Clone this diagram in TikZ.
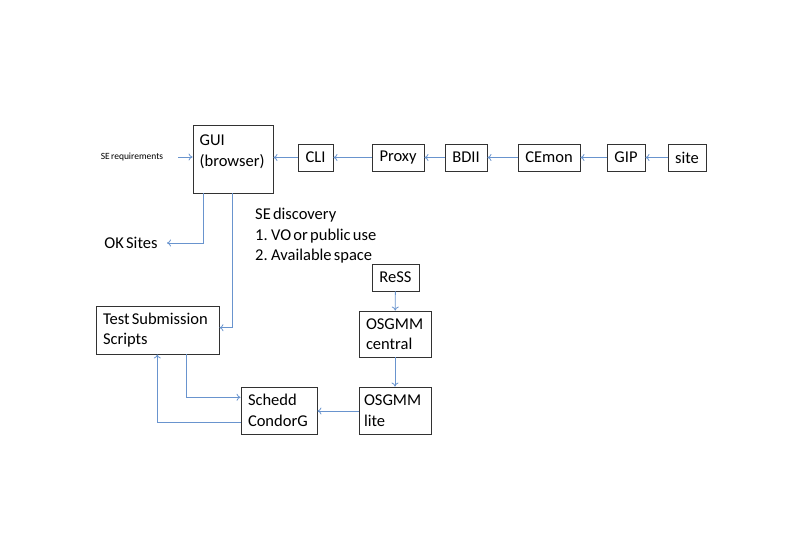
\documentclass[tikz,border=0pt]{standalone}
\usepackage{fontspec}
\setmainfont{Carlito}[WordSpace=0.6]
\usetikzlibrary{arrows.meta}
\definecolor{linkblue}{RGB}{105,148,206}
\definecolor{boxline}{RGB}{50,50,50}
\begin{document}
\begin{tikzpicture}[x=1pt,y=-1pt,
  every node/.style={font=\fontsize{16.5}{20.5}\selectfont},
  box/.style={draw=boxline,line width=0.9pt,inner sep=0pt},
  tbox/.style={box,align=flush left,text width=#1},
  link/.style={draw=linkblue,line width=0.8pt,-{To[length=4pt,width=7pt]}},
  plain/.style={inner sep=0pt}]
\useasboundingbox (0,0) rectangle (793,559);

% top row
\node[box,minimum width=80pt,minimum height=68pt] (gui) at (233,159) {};
\node[plain,anchor=base west,align=left] (guitext) at (199.5,166.2) {GUI\\(browser)};
\node[box,minimum width=35pt,minimum height=27pt] (cli) at (315.5,157.5) {CLI};
\node[box,minimum width=52pt,minimum height=27pt] (proxy) at (398,157.5) {Proxy};
\node[box,minimum width=42pt,minimum height=27pt] (bdii) at (466,157.5) {BDII};
\node[box,minimum width=62pt,minimum height=27pt] (cemon) at (549,157.5) {CEmon};
\node[box,minimum width=38pt,minimum height=27pt] (gip) at (626,157.5) {GIP};
\node[box,minimum width=38pt,minimum height=27pt] (site) at (687,157.5) {site};

% inputs and outputs of the GUI
\node[plain,font=\fontsize{9.5}{11}\selectfont] (req) at (132,157) {SE requirements};
\coordinate (reqend) at (178,157);
\node[plain] (ok) at (131,243) {OK Sites};
\node[plain,anchor=north west,align=left] (disc) at (255,208) {SE discovery\\1. VO or public use\\2. Available space};

% lower part
\node[tbox=109pt,minimum width=123pt,minimum height=48pt] (test) at (157.5,330) {Test Submission\\Scripts};
\node[box,minimum width=47pt,minimum height=27pt] (ress) at (395.5,277.5) {ReSS};
\node[tbox=58pt,minimum width=72pt,minimum height=46pt] (central) at (395,334) {OSGMM\\central};
\node[tbox=62pt,minimum width=72pt,minimum height=47pt] (lite) at (395,410.5) {OSGMM\\lite};
\node[tbox=62pt,minimum width=76pt,minimum height=47pt] (schedd) at (279,410.5) {Schedd\\CondorG};

% information chain
\draw[link] (site) -- (gip);
\draw[link] (gip) -- (cemon);
\draw[link] (cemon) -- (bdii);
\draw[link] (bdii) -- (proxy);
\draw[link] (proxy) -- (cli);
\draw[link] (cli.west) -- (cli.west -| gui.east);
\draw[link] (reqend) -- (reqend -| gui.west);

% GUI outputs
\draw[link] (gui.south -| 203,0) |- (ok.east -| 167,0);
\draw[link] (gui.south -| 232.7,0) |- (test.east |- 0,327.7);

% matchmaking chain
\draw[link] (ress) -- (central);
\draw[link] (central) -- (lite);
\draw[link] (lite.west |- 0,411) -- (schedd.east |- 0,411);

% submission loop
\draw[link] (test.south -| 186.7,0) |- (schedd.west |- 0,397.3);
\draw[link] (schedd.west |- 0,422.3) -| (test.south -| 157.3,0);
\end{tikzpicture}
\end{document}
